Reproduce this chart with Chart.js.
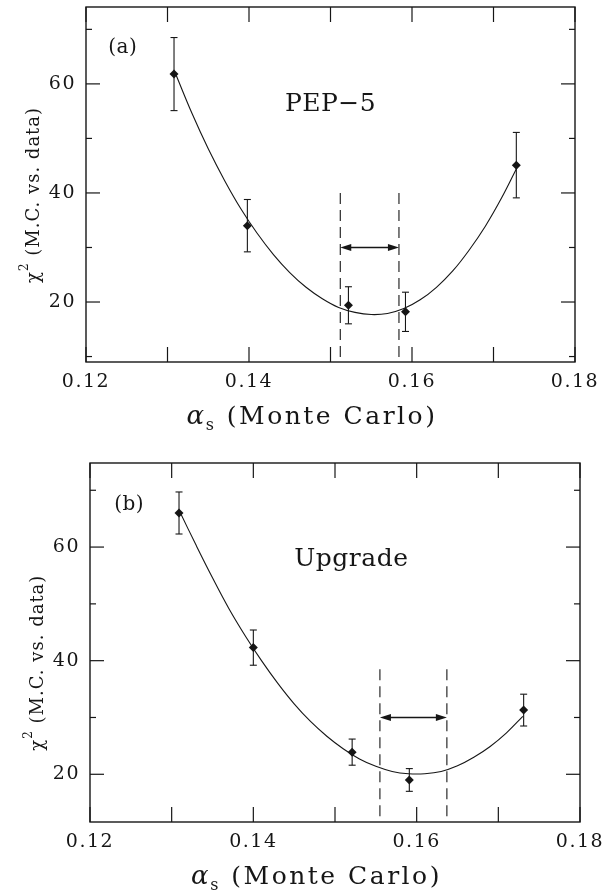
<!DOCTYPE html>
<html>
<head>
<meta charset="utf-8">
<script src="https://cdn.jsdelivr.net/npm/chart.js@4.4.0/dist/chart.umd.min.js"></script>
<style>
  html, body { margin: 0; padding: 0; background: #fff; }
  #wrap { position: relative; width: 608px; height: 893px; }
  canvas { position: absolute; left: 0; }
</style>
</head>
<body>
<div id="wrap">
  <canvas id="chartA" width="608" height="440" style="top:0"></canvas>
  <canvas id="chartB" width="608" height="453" style="top:440px"></canvas>
</div>
<script>
'use strict';

// PEP-5: chi2 of Monte Carlo vs data for each alpha_s sample
const alphaA = [0.1308, 0.1398, 0.1522, 0.1592, 0.1728];
const chi2A = [61.8, 34.0, 19.4, 18.2, 45.1];
const errA = [6.7, 4.8, 3.4, 3.6, 6.0];

// Upgrade
const alphaB = [0.1309, 0.1400, 0.1521, 0.1591, 0.1731];
const chi2B = [66.0, 42.3, 23.9, 19.0, 31.3];
const errB = [3.7, 3.1, 2.3, 2.0, 2.8];

// fitted curves through the points
const fitX = [0.131, 0.133, 0.135, 0.137, 0.139, 0.141, 0.143, 0.145, 0.147, 0.149, 0.151,
              0.153, 0.155, 0.157, 0.159, 0.161, 0.163, 0.165, 0.167, 0.169, 0.171, 0.173];
const fitA = [61.8, 54.6, 48.1, 42.3, 37.1, 32.6, 28.7, 25.4, 22.7, 20.6, 19.0,
              18.1, 17.7, 17.9, 18.8, 20.4, 22.7, 25.7, 29.5, 33.9, 39.1, 45.0];
const fitB = [66.2, 60.3, 54.6, 49.2, 44.4, 40.0, 36.0, 32.4, 29.3, 26.7, 24.5,
              22.7, 21.4, 20.5, 20.1, 20.1, 20.5, 21.5, 23.0, 24.9, 27.3, 30.2];

// alpha_s range between the dashed lines, and where the arrow sits
const rangeA = [0.1512, 0.1584];
const rangeB = [0.1555, 0.1637];
const dashTopA = 40;
const dashTopB = 38.5;
const arrowA = 30;
const arrowB = 30;

const xMajor = [0.12, 0.14, 0.16, 0.18];
const xMinor = [0.13, 0.15, 0.17];
const yMajor = [20, 40, 60];
const yMinor = [10, 30, 50, 70];

const ink = '#161616';
const serif = 'DejaVu Serif';

function line(c, x1, y1, x2, y2) {
    c.beginPath();
    c.moveTo(x1, y1);
    c.lineTo(x2, y2);
    c.stroke();
}

function arrowHead(c, x, y, dir) {
    c.beginPath();
    c.moveTo(x, y);
    c.lineTo(x - dir * 11, y - 3.5);
    c.lineTo(x - dir * 11, y + 3.5);
    c.closePath();
    c.fill();
}

const decor = {
    id: 'decor',
    beforeDraw(chart) {
        // wider spacing for the tick numbers
        chart.ctx.letterSpacing = '1.5px';
    },
    afterDatasetsDraw(chart) {
        const p = chart.options.plugins.decor;
        const c = chart.ctx;
        const a = chart.chartArea;
        const x = chart.scales.x;
        const y = chart.scales.y;
        c.save();
        c.strokeStyle = ink;
        c.fillStyle = ink;

        // error bars
        c.lineWidth = 1.1;
        p.alpha.forEach(function(v, i){
            const px = x.getPixelForValue(v);
            const lo = y.getPixelForValue(p.chi2[i] - p.err[i]);
            const hi = y.getPixelForValue(p.chi2[i] + p.err[i]);
            line(c, px, lo, px, hi);
            line(c, px - 3.5, lo, px + 3.5, lo);
            line(c, px - 3.5, hi, px + 3.5, hi);
        });

        // dashed limits and the double arrow
        const l = x.getPixelForValue(p.range[0]);
        const r = x.getPixelForValue(p.range[1]);
        const top = y.getPixelForValue(p.dashTop);
        c.lineWidth = 1.1;
        c.setLineDash([11, 6]);
        line(c, l, top, l, a.bottom);
        line(c, r, top, r, a.bottom);
        c.setLineDash([]);
        const ay = y.getPixelForValue(p.arrow);
        c.lineWidth = 1.3;
        line(c, l + 6, ay, r - 6, ay);
        arrowHead(c, l, ay, -1);
        arrowHead(c, r, ay, 1);

        // frame with inward ticks
        c.lineWidth = 1.4;
        c.strokeRect(a.left, a.top, a.right - a.left, a.bottom - a.top);
        c.lineWidth = 1.2;
        xMajor.concat(xMinor).forEach(function(v){
            const px = x.getPixelForValue(v);
            line(c, px, a.bottom, px, a.bottom - 15);
            line(c, px, a.top, px, a.top + 15);
        });
        yMajor.forEach(function(v){
            const py = y.getPixelForValue(v);
            line(c, a.left, py, a.left + 14, py);
            line(c, a.right, py, a.right - 14, py);
        });
        yMinor.forEach(function(v){
            const py = y.getPixelForValue(v);
            if (py < a.top || py > a.bottom) return;
            line(c, a.left, py, a.left + 6, py);
            line(c, a.right, py, a.right - 6, py);
        });

        // panel tag and experiment name
        c.letterSpacing = '0.5px';
        c.textAlign = 'center';
        c.textBaseline = 'alphabetic';
        c.font = '20px ' + serif;
        c.fillText(p.tag, x.getPixelForValue(p.tagAt[0]), y.getPixelForValue(p.tagAt[1]));
        c.font = '25px ' + serif;
        c.fillText(p.name, x.getPixelForValue(p.nameAt[0]), y.getPixelForValue(p.nameAt[1]));

        // x title: alpha_s (Monte Carlo)
        c.letterSpacing = '2.5px';
        c.textAlign = 'left';
        const rest = ' (Monte Carlo)';
        c.font = 'italic 26px ' + serif;
        const wa = c.measureText('α').width;
        c.font = '16px ' + serif;
        const ws = c.measureText('s').width;
        c.font = '25px ' + serif;
        const wr = c.measureText(rest).width;
        let sx = (a.left + a.right) / 2 - 18 - (wa + ws + wr) / 2;
        const base = a.bottom + 62;
        c.font = 'italic 26px ' + serif;
        c.fillText('α', sx, base);
        sx += wa - 1;
        c.font = '16px ' + serif;
        c.fillText('s', sx, base + 6);
        sx += ws;
        c.font = '25px ' + serif;
        c.fillText(rest, sx, base);

        // y title: chi^2 (M.C. vs. data)
        c.letterSpacing = '1px';
        c.translate(a.left - 52, y.getPixelForValue(40) + 2);
        c.rotate(-Math.PI / 2);
        c.textBaseline = 'middle';
        const yrest = ' (M.C. vs. data)';
        c.font = '18px ' + serif;
        const wc = c.measureText('χ').width;
        const wy = c.measureText(yrest).width;
        c.font = '12px ' + serif;
        const w2 = c.measureText('2').width;
        let tx = -(wc + w2 + wy) / 2;
        c.font = '18px ' + serif;
        c.fillText('χ', tx, 0);
        tx += wc;
        c.font = '12px ' + serif;
        c.fillText('2', tx, -9);
        tx += w2;
        c.font = '18px ' + serif;
        c.fillText(yrest, tx, 0);
        c.restore();
    }
};

function makeChart(id, d) {
    return new Chart(document.getElementById(id), {
        type: 'scatter',
        data: {
            datasets: [{
                data: fitX.map((v, i) => ({x: v, y: d.fit[i]})),
                showLine: true,
                tension: 0.4,
                borderColor: ink,
                borderWidth: 1.1,
                pointRadius: 0,
            }, {
                data: d.alpha.map((v, i) => ({x: v, y: d.chi2[i]})),
                pointStyle: 'rectRot',
                pointRadius: 4.5,
                backgroundColor: ink,
                borderColor: ink,
                borderWidth: 0,
            }]
        },
        options: {
            responsive: false,
            animation: false,
            devicePixelRatio: 1,
            layout: {padding: {top: d.padTop, right: d.padRight, left: 0, bottom: 0}},
            plugins: {
                legend: {display: false},
                tooltip: {enabled: false},
                decor: d,
            },
            scales: {
                x: {
                    type: 'linear',
                    min: 0.12,
                    max: 0.18,
                    grid: {display: false, drawTicks: false},
                    border: {display: false},
                    afterBuildTicks: function(s){
                        s.ticks = xMajor.concat(xMinor).sort().map(v => ({value: v}));
                    },
                    afterFit: function(s){
                        s.height = d.axisH;
                        s.paddingLeft = 0;
                        s.paddingRight = 0;
                    },
                    ticks: {
                        autoSkip: false,
                        maxRotation: 0,
                        padding: 9,
                        color: ink,
                        font: {family: serif, size: 19},
                        callback: v => xMajor.includes(v) ? v.toFixed(2) : '',
                    },
                },
                y: {
                    min: d.yMin,
                    max: d.yMax,
                    grid: {display: false, drawTicks: false},
                    border: {display: false},
                    afterBuildTicks: function(s){
                        s.ticks = yMinor.concat(yMajor).sort((p, q) => p - q).map(v => ({value: v}));
                    },
                    afterFit: function(s){
                        s.width = d.axisW;
                        s.paddingTop = 0;
                        s.paddingBottom = 0;
                    },
                    ticks: {
                        autoSkip: false,
                        padding: 10,
                        color: ink,
                        font: {family: serif, size: 19},
                        callback: v => yMajor.includes(v) ? String(v) : '',
                    },
                },
            },
        },
        plugins: [decor],
    });
}

makeChart('chartA', {
    alpha: alphaA, chi2: chi2A, err: errA, fit: fitA,
    range: rangeA, dashTop: dashTopA, arrow: arrowA,
    tag: '(a)', tagAt: [0.1245, 65.6],
    name: 'PEP\u22125', nameAt: [0.150, 55.1],
    yMin: 9, yMax: 74.1,
    padTop: 7, padRight: 33, axisW: 86, axisH: 78,
});

makeChart('chartB', {
    alpha: alphaB, chi2: chi2B, err: errB, fit: fitB,
    range: rangeB, dashTop: dashTopB, arrow: arrowB,
    tag: '(b)', tagAt: [0.1248, 66.6],
    name: 'Upgrade', nameAt: [0.152, 56.7],
    yMin: 11.6, yMax: 74.8,
    padTop: 23, padRight: 28, axisW: 90, axisH: 71,
});
</script>
</body>
</html>
